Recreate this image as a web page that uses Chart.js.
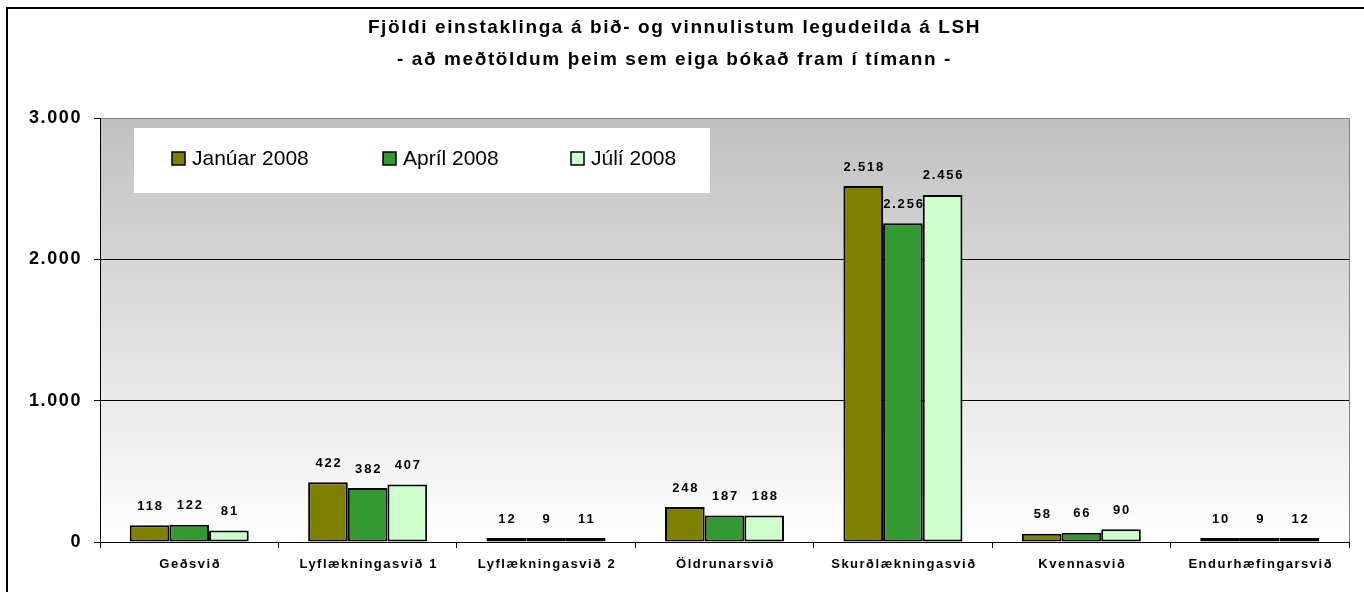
<!DOCTYPE html>
<html>
<head>
<meta charset="utf-8">
<script src="https://cdn.jsdelivr.net/npm/chart.js@4.4.0/dist/chart.umd.min.js"></script>
<style>
    html, body { margin: 0; padding: 0; background: #fff; }
    #wrap { width: 1364px; height: 592px; position: relative; }
</style>
</head>
<body>
<div id="wrap"><canvas id="bidlistiChart" width="1364" height="592"></canvas></div>
<script>
const titill = [
    "Fjöldi einstaklinga á bið- og vinnulistum legudeilda á LSH",
    "- að meðtöldum þeim sem eiga bókað fram í tímann -"
];
const svid = ["Geðsvið", "Lyflækningasvið 1", "Lyflækningasvið 2", "Öldrunarsvið",
    "Skurðlækningasvið", "Kvennasvið", "Endurhæfingarsvið"];
const radir = ["Janúar 2008", "Apríl 2008", "Júlí 2008"];
const jan2008 = [118, 422, 12, 248, 2518, 58, 10];
const apr2008 = [122, 382, 9, 187, 2256, 66, 9];
const jul2008 = [81, 407, 11, 188, 2456, 90, 12];
const yTicks = [0, 1000, 2000, 3000];
const litir = ["#808000", "#339933", "#ccffcc"];

const FONT = "'Liberation Sans', Arial, sans-serif";

function fmt(v) {
    return String(v).replace(/\B(?=(\d{3})+(?!\d))/g, ".");
}

// bakgrunnur, rammi og bil milli stafa
const bakgrunnur = {
    id: "bakgrunnur",
    beforeDraw(chart) {
        const { ctx, chartArea: a } = chart;
        ctx.save();
        ctx.fillStyle = "#fff";
        ctx.fillRect(0, 0, chart.width, chart.height);
        const g = ctx.createLinearGradient(0, a.top, 0, a.bottom);
        g.addColorStop(0, "#c0c0c0");
        g.addColorStop(1, "#ffffff");
        ctx.fillStyle = g;
        ctx.fillRect(a.left, a.top, a.right - a.left, a.bottom - a.top);
        // ytri rammi
        ctx.strokeStyle = "#000";
        ctx.lineWidth = 2;
        ctx.strokeRect(7, 8, chart.width + 20, chart.height + 20);
        ctx.restore();
        ctx.letterSpacing = "1.6px";
    }
};

// merkingar, flokkaheiti og skýringar
const merkingar = {
    id: "merkingar",
    afterDraw(chart) {
        const { ctx, chartArea: a } = chart;
        ctx.save();
        // grá brún hægra megin
        ctx.strokeStyle = "#808080";
        ctx.lineWidth = 1;
        ctx.beginPath();
        ctx.moveTo(a.right + 0.5, a.top);
        ctx.lineTo(a.right + 0.5, a.bottom);
        ctx.stroke();

        // gildi ofan á súlum
        ctx.fillStyle = "#000";
        ctx.font = "bold 13px " + FONT;
        ctx.letterSpacing = "1.8px";
        ctx.textAlign = "center";
        ctx.textBaseline = "middle";
        chart.data.datasets.forEach((ds, i) => {
            chart.getDatasetMeta(i).data.forEach((bar, j) => {
                ctx.fillText(fmt(ds.data[j]), bar.x + 1, bar.y - 19);
            });
        });

        // flokkaheiti
        const xs = chart.scales.x;
        ctx.font = "bold 13px " + FONT;
        ctx.letterSpacing = "1.5px";
        svid.forEach((s, i) => {
            ctx.fillText(s, xs.getPixelForValue(i) + 1, a.bottom + 22);
        });

        // skýringar
        ctx.letterSpacing = "0px";
        ctx.fillStyle = "#fff";
        ctx.fillRect(134, 128, 576, 65);
        ctx.font = "21px " + FONT;
        ctx.textAlign = "left";
        const stadir = [172, 383, 571];
        chart.data.datasets.forEach((ds, i) => {
            const x = stadir[i];
            ctx.fillStyle = ds.backgroundColor;
            ctx.fillRect(x, 152, 13, 13);
            ctx.strokeStyle = "#000";
            ctx.lineWidth = 1.5;
            ctx.strokeRect(x, 152, 13, 13);
            ctx.fillStyle = "#000";
            ctx.fillText(ds.label, x + 20, 159);
        });
        ctx.restore();
    }
};

const ctx = document.getElementById("bidlistiChart").getContext("2d");
new Chart(ctx, {
    type: "bar",
    data: {
        labels: svid,
        datasets: [
            { label: radir[0], data: jan2008, backgroundColor: litir[0] },
            { label: radir[1], data: apr2008, backgroundColor: litir[1] },
            { label: radir[2], data: jul2008, backgroundColor: litir[2] }
        ].map((d) => Object.assign(d, {
            borderColor: "#000",
            borderWidth: 2,
            borderSkipped: false,
            minBarLength: 4,
            barPercentage: 1,
            categoryPercentage: 0.667
        }))
    },
    options: {
        responsive: false,
        animation: false,
        layout: { padding: { left: 0, right: 15, top: 0, bottom: 0 } },
        plugins: {
            legend: { display: false },
            tooltip: { enabled: false },
            title: {
                display: true,
                text: titill,
                color: "#000",
                font: { family: FONT, size: 19, weight: "bold", lineHeight: 32 / 19 },
                padding: { top: 12, bottom: 42 }
            }
        },
        scales: {
            x: {
                offset: true,
                grid: { offset: true, drawOnChartArea: false, tickLength: 6, color: "#000" },
                border: { color: "#000", width: 1 },
                ticks: { display: false },
                afterFit(scale) { scale.height = 50; }
            },
            y: {
                min: 0,
                max: 3000,
                afterBuildTicks(scale) {
                    scale.ticks = yTicks.map((v) => ({ value: v }));
                },
                grid: {
                    color: (c) => (c.tick && c.tick.value === 3000 ? "#808080" : "#000"),
                    tickColor: "#000",
                    tickLength: 6
                },
                border: { color: "#000", width: 1 },
                ticks: {
                    padding: 12,
                    color: "#000",
                    font: { family: FONT, size: 18, weight: "bold" },
                    callback: (v) => fmt(v)
                },
                afterFit(scale) { scale.width = 100; }
            }
        }
    },
    plugins: [bakgrunnur, merkingar]
});
</script>
</body>
</html>
